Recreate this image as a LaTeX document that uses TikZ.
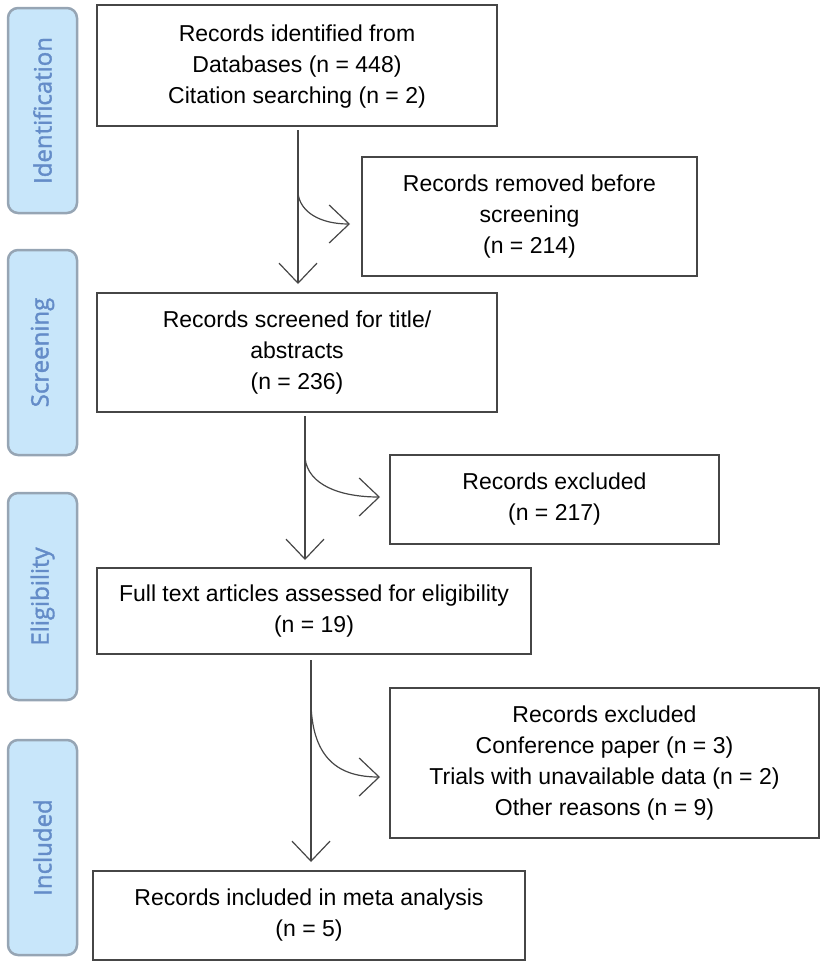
\documentclass[tikz,border=0pt]{standalone}
\usepackage{fontspec}
\setmainfont{Liberation Sans}
\newfontfamily\sidefont[FakeBold=1.5]{Open Sans}
\usetikzlibrary{arrows.meta}
\definecolor{sidefill}{RGB}{200,230,250}
\definecolor{sidedraw}{RGB}{150,165,180}
\definecolor{sidetext}{RGB}{100,140,200}
\definecolor{ln}{RGB}{70,70,70}
\begin{document}
\begin{tikzpicture}[x=1pt,y=-1pt,
  box/.style={align=center,font=\fontsize{23}{31}\selectfont},
  frame/.style={draw=ln,line width=1.2pt},
  side/.style={draw=sidedraw,line width=2.5pt,fill=sidefill,rounded corners=10pt},
  sidelab/.style={rotate=90,text=sidetext,font=\sidefont\fontsize{24}{28}\selectfont},
  arr/.style={draw=ln,line width=1.2pt,-{Straight Barb[length=20pt,width=38pt,line width=1.2pt]}}]
\useasboundingbox (0,0) rectangle (826,964);
% side labels
\draw[side] (8,8) rectangle (77,213);
\node[sidelab] (sid) at (42.5,110.5) {Identification};
\draw[side] (8,250) rectangle (77,455);
\node[sidelab] (ssc) at (42.5,352.5) {Screening};
\draw[side] (8,493) rectangle (77,700);
\node[sidelab] (sel) at (42.5,596.5) {Eligibility};
\draw[side] (8,740) rectangle (77,955);
\node[sidelab] (sin) at (42.5,847.5) {Included};
% boxes
\draw[frame] (97,5) rectangle (497,126);
\node[box] (b1) at (297,67) {Records identified from\\Databases (n = 448)\\Citation searching (n = 2)};
\draw[frame] (362,157) rectangle (697,276);
\node[box] (b2) at (529.5,216.5) {Records removed before\\screening\\(n = 214)};
\draw[frame] (97,293) rectangle (497,412);
\node[box] (b3) at (297,352.5) {Records screened for title/\\abstracts\\(n = 236)};
\draw[frame] (390,455) rectangle (719,544);
\node[box] (b4) at (554.5,499.5) {Records excluded\\(n = 217)};
\draw[frame] (97,568) rectangle (531,654);
\node[box] (b5) at (314,611) {Full text articles assessed for eligibility\\(n = 19)};
\draw[frame] (390,688) rectangle (819,838);
\node[box] (b6) at (604.5,763) {Records excluded\\Conference paper (n = 3)\\Trials with unavailable data (n = 2)\\Other reasons (n = 9)};
\draw[frame] (93,871) rectangle (525,960);
\node[box] (b7) at (309,915.5) {Records included in meta analysis\\(n = 5)};
% arrows
\coordinate (a1s) at (298,130); \coordinate (a1e) at (298,284);
\coordinate (c1s) at (298,193); \coordinate (c1e) at (350,224);
\draw[arr] (a1s) -- (a1e);
\draw[arr] (c1s) .. controls (300,212) and (320,224) .. (c1e);
\coordinate (a2s) at (305,416); \coordinate (a2e) at (305,560);
\coordinate (c2s) at (305,458); \coordinate (c2e) at (380,497);
\draw[arr] (a2s) -- (a2e);
\draw[arr] (c2s) .. controls (308,485) and (340,497) .. (c2e);
\coordinate (a3s) at (311,660); \coordinate (a3e) at (311,862);
\coordinate (c3s) at (311,705); \coordinate (c3e) at (380,777);
\draw[arr] (a3s) -- (a3e);
\draw[arr] (c3s) .. controls (313,760) and (340,777) .. (c3e);
\end{tikzpicture}
\end{document}
